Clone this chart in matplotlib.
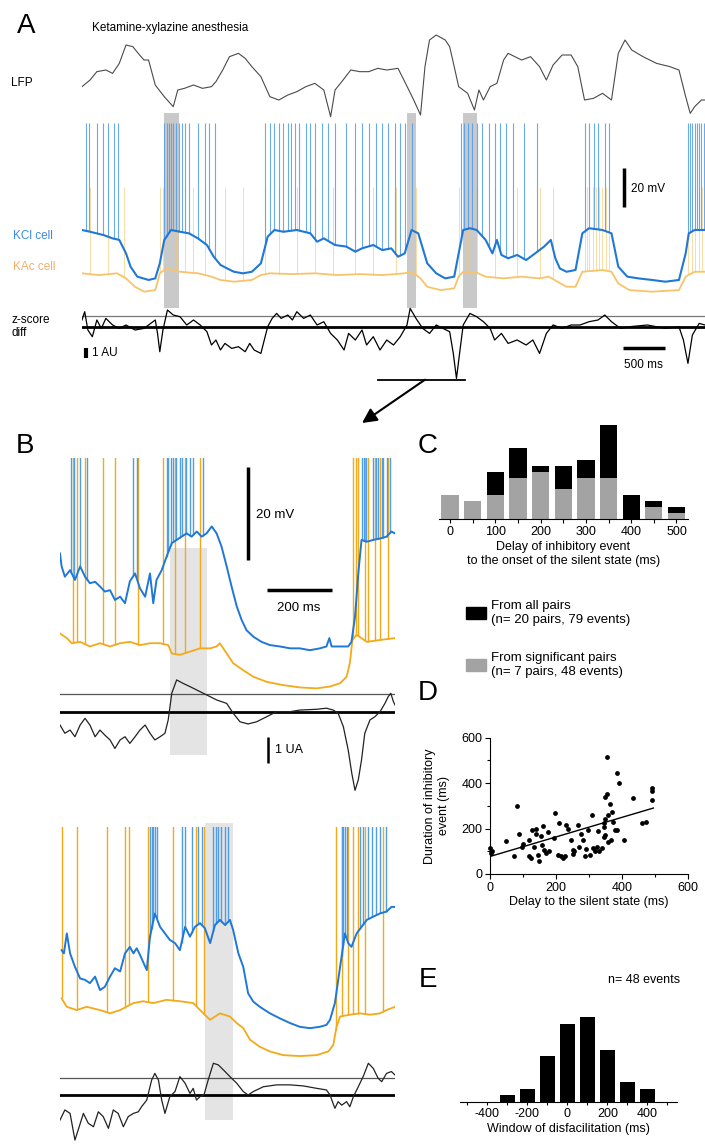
import numpy as np
import matplotlib
matplotlib.use("Agg")
import matplotlib.pyplot as plt
from matplotlib.patches import Patch

plt.rcParams["font.family"] = ["Liberation Sans", "DejaVu Sans"]
plt.rcParams["axes.unicode_minus"] = False

W, H = 705, 1145

BLUE = "#1f78d6"
BLUE_SPK = "#4f9de9"
ORANGE = "#f4a918"
ORANGE_PALE = "#f8c46a"
BAND_A = "#c9c9c9"
BAND_B = "#e4e4e4"

# ---------------- Panel A (time in ms) ----------------
lfp_t = [0, 96, 177, 284, 364, 444, 524, 605, 685, 738, 792, 872, 979, 1086, 1140,
         1220, 1327, 1434, 1541, 1594, 1675, 1755, 1862, 1942, 2022, 2129, 2236, 2343,
         2450, 2557, 2664, 2771, 2878, 2959, 3012, 3092, 3199, 3306, 3413, 3520, 3627,
         3761, 3841, 3948, 4029, 4082, 4136, 4216, 4323, 4376, 4430, 4483, 4590, 4671,
         4724, 4778, 4858, 4938, 5018, 5072, 5152, 5232, 5339, 5446, 5527, 5607, 5714,
         5821, 5901, 5981, 6088, 6195, 6302, 6383, 6463, 6543, 6677, 6837, 6998, 7105,
         7185, 7239, 7292, 7372, 7415]
lfp_v = [-0.10, 0.10, 0.35, 0.40, 0.30, 0.60, 1.15, 1.10, 0.85, 0.70, 0.70, -0.05, -0.40,
         -0.70, -0.20, -0.15, -0.05, -0.15, -0.10, 0.05, 0.40, 0.80, 0.90, 0.75, 0.50, 0.20,
         -0.40, -0.50, -0.35, -0.25, -0.10, 0.00, -0.20, -1.00, -0.20, 0.05, 0.40, 0.35,
         0.35, 0.45, 0.40, 0.45, 0.05, -0.50, -0.95, 0.50, 1.30, 1.45, 1.30, 1.10, 0.50,
         -0.10, -0.30, -0.80, -0.20, -0.50, -0.10, 0.00, 0.70, 0.90, 0.80, 0.70, 0.80,
         0.50, 0.10, 0.55, 0.85, 0.85, 0.50, -0.50, -0.45, -0.30, -0.50, 0.90, 1.30, 1.00,
         0.80, 0.60, 0.50, 0.40, -0.40, -0.90, -0.70, -0.50, -0.50]

kcl_t = [0, 96, 257, 364, 444, 524, 578, 658, 792, 872, 926, 979, 1059, 1166, 1273, 1380,
         1487, 1568, 1648, 1728, 1808, 1915, 2022, 2129, 2210, 2290, 2397, 2557, 2718,
         2798, 2878, 3012, 3146, 3253, 3333, 3467, 3574, 3681, 3761, 3841, 3922, 4002,
         4109, 4216, 4323, 4430, 4483, 4537, 4617, 4697, 4804, 4885, 4938, 4992, 5072,
         5179, 5286, 5393, 5500, 5580, 5634, 5687, 5767, 5874, 5955, 6035, 6195, 6302,
         6383, 6490, 6623, 6784, 6944, 7105, 7185, 7222, 7292, 7415]
kcl_v = [-50.0, -50.9, -52.6, -54.3, -55.1, -62.0, -68.8, -73.9, -75.6, -74.8, -67.1,
         -55.1, -50.0, -50.9, -51.7, -54.3, -57.7, -63.7, -67.9, -69.7, -71.4, -72.2,
         -71.4, -67.1, -53.4, -50.0, -50.9, -50.0, -51.7, -56.0, -54.3, -57.7, -58.5,
         -61.1, -59.4, -57.7, -60.3, -59.4, -63.7, -62.0, -50.0, -51.7, -67.1, -72.2,
         -74.8, -73.9, -62.0, -50.0, -49.1, -50.0, -55.1, -62.0, -55.1, -62.8, -64.5,
         -62.8, -65.4, -62.0, -58.5, -55.1, -64.5, -69.7, -71.4, -70.5, -51.7, -49.1,
         -50.0, -51.7, -68.8, -73.9, -74.8, -75.6, -76.5, -75.6, -62.0, -51.7, -50.0, -50.0]

kac_t = [0, 203, 417, 524, 631, 738, 872, 926, 1006, 1166, 1380, 1541, 1648, 1808, 2022,
         2129, 2236, 2504, 2771, 3039, 3306, 3574, 3841, 3922, 4029, 4109, 4269, 4430,
         4483, 4537, 4697, 4804, 5018, 5232, 5446, 5553, 5660, 5767, 5874, 5955, 6195,
         6302, 6383, 6516, 6784, 7105, 7185, 7292, 7415]
kac_v = [-72.2, -73.1, -72.2, -74.8, -79.1, -81.6, -80.8, -72.2, -69.7, -71.4, -72.2,
         -73.9, -75.6, -76.5, -75.6, -73.1, -72.2, -72.6, -72.2, -73.1, -72.6, -73.1,
         -72.2, -71.4, -74.8, -79.1, -80.8, -79.9, -73.9, -71.4, -71.9, -73.9, -74.8,
         -73.9, -74.8, -73.9, -76.5, -79.1, -79.1, -71.4, -70.5, -71.4, -77.4, -80.8,
         -81.6, -80.8, -73.9, -71.4, -71.4]

kcl_spikes_a = [43, 80, 177, 246, 310, 375, 428,
                979, 1006, 1033, 1059, 1086, 1124, 1156, 1193, 1231, 1273, 1380, 1461, 1514, 1584,
                2183, 2236, 2290, 2343, 2397, 2450, 2493, 2531, 2584, 2664, 2718, 2771, 2852,
                2932, 3012, 3146, 3253, 3333, 3413, 3494, 3574, 3638, 3724, 3788, 3841, 3922,
                4510, 4548, 4590, 4644, 4697, 4762, 4847, 4911, 4981, 5045, 5125, 5259, 5420,
                5981, 6035, 6088, 6142, 6222, 6275,
                7212, 7239, 7265, 7292, 7319, 7346, 7372, 7399]
kac_spikes_a = [96, 310, 498, 926, 963, 1017, 1113, 1220, 1327, 1461, 1701, 1915, 2183,
                2343, 2557, 2771, 2985, 3253, 3467, 3734, 3975, 4483, 4590, 4697, 4911,
                5179, 5446, 5607, 5981, 6008, 6035, 6078, 6115, 6152, 6195, 6238, 6275,
                7212, 7255, 7297, 7340, 7383]
kcl_peak_a = 5.0
kac_peak_a = -28.0

zdiff_t = [0, 32, 70, 123, 177, 230, 284, 364, 444, 524, 631, 738, 872, 899, 926, 963,
           1017, 1086, 1166, 1247, 1327, 1407, 1487, 1541, 1594, 1648, 1701, 1782, 1862,
           1942, 1996, 2049, 2129, 2210, 2263, 2317, 2370, 2450, 2504, 2557, 2638, 2718,
           2798, 2878, 2959, 3039, 3119, 3173, 3253, 3333, 3387, 3467, 3547, 3627, 3708,
           3788, 3868, 3906, 3975, 4055, 4136, 4216, 4296, 4376, 4419, 4457, 4494, 4537,
           4617, 4697, 4778, 4858, 4911, 4992, 5072, 5179, 5286, 5366, 5446, 5527, 5607,
           5714, 5821, 5928, 6035, 6142, 6222, 6302, 6409, 6516, 6730, 6944, 7105, 7158,
           7212, 7265, 7346, 7415]
zdiff_v = [0.67, 1.50, -0.33, -1.00, 0.67, -0.17, 0.83, 0.17, -0.17, 0.17, -0.33, -0.17,
           0.67, -0.67, -2.50, -0.33, 1.67, 1.17, 1.00, 0.17, 0.67, 0.17, -0.50, -1.83,
           -1.33, -2.33, -1.67, -2.17, -2.00, -2.50, -1.67, -2.33, -2.67, 0.00, 0.83, 1.33,
           0.83, 1.17, 0.67, 1.50, 0.83, 1.17, 0.17, 0.50, -0.67, -1.33, -2.33, -0.67,
           -1.33, -0.33, -1.83, -1.00, -2.33, -1.33, -1.83, -1.00, 0.17, 1.83, 0.83, -0.17,
           -0.67, 0.17, -0.17, -0.50, -2.67, -5.17, -2.67, 0.17, 1.33, 1.00, 0.50, -0.17,
           -1.33, -0.67, -1.67, -1.33, -1.83, -1.33, -2.67, -0.67, 0.17, -0.17, 0.17, 0.17,
           0.50, 0.67, 1.17, 0.50, -0.17, 0.00, 0.17, -0.17, 0.00, -1.33, -3.67, -0.83,
           0.33, 0.17]
z_thr_a = 1.07
bands_a = [(979, 1156), (3868, 3975), (4537, 4697)]
zoom_window_a = (3520, 4564)

# ---------------- Panel B (time in ms from window start) ----------------
b1_kcl_t = [0, 5, 15, 31, 46, 62, 77, 92, 108, 123, 138, 154, 169, 185, 200, 215, 231,
            246, 262, 277, 287, 297, 313, 328, 344, 359, 374, 390, 405, 421, 436, 451, 467,
            482, 497, 513, 528, 544, 559, 574, 595, 620, 646, 677, 708, 738, 769, 800, 820,
            829, 836, 862, 887, 897, 908, 918, 928, 944, 964, 985, 1005, 1020, 1031]
b1_kcl_v = [-48.6, -51.4, -53.6, -52.2, -54.3, -51.4, -53.6, -55.0, -54.7, -55.7, -56.8,
            -56.5, -58.6, -57.9, -59.3, -54.6, -52.9, -56.1, -57.9, -52.9, -59.3, -54.3,
            -52.2, -49.3, -46.4, -45.7, -45.0, -44.3, -45.0, -43.9, -45.0, -44.3, -42.8,
            -44.3, -47.1, -51.4, -55.7, -60.0, -62.9, -65.1, -66.5, -67.6, -68.3, -68.6,
            -69.0, -69.0, -69.4, -69.0, -68.6, -66.8, -68.6, -68.6, -68.6, -67.6, -62.2,
            -52.9, -45.7, -46.1, -45.7, -45.4, -45.0, -43.9, -44.3]
b1_kac_t = [0, 21, 36, 62, 92, 123, 154, 185, 215, 246, 277, 308, 333, 344, 369, 400, 431,
            462, 482, 492, 513, 533, 564, 595, 636, 687, 738, 790, 831, 862, 882, 892, 900,
            913, 944, 985, 1031]
b1_kac_v = [-65.8, -66.8, -67.9, -67.6, -68.6, -67.9, -68.6, -67.9, -67.6, -68.3, -67.9,
            -67.9, -68.3, -70.1, -70.4, -69.7, -69.0, -69.0, -68.6, -67.9, -70.1, -72.2,
            -73.7, -75.1, -76.2, -76.9, -77.4, -77.6, -77.2, -76.5, -75.1, -72.2, -67.2,
            -66.1, -67.6, -67.2, -66.8]
b1_kcl_spikes = [34, 43, 62, 84, 226, 236, 328, 333, 341, 349, 357, 369, 377, 388, 400,
                 410, 441, 928, 935, 941, 964, 972, 979, 990, 995, 1005, 1015]
b1_kac_spikes = [39, 51, 77, 133, 169, 241, 318, 354, 385, 431, 903, 910, 918, 938, 949,
                 969, 985, 1010]
b1_z_t = [0, 15, 31, 46, 62, 77, 92, 108, 123, 138, 154, 169, 185, 200, 215, 231, 246, 262,
          277, 292, 308, 323, 333, 344, 359, 379, 400, 431, 451, 482, 513, 533, 554, 579,
          605, 636, 667, 708, 738, 790, 820, 841, 856, 872, 887, 898, 908, 918, 928, 938,
          954, 969, 985, 1000, 1010, 1018, 1026, 1031]
b1_z_v = [-0.50, -0.81, -0.69, -0.94, -0.50, -0.25, -0.50, -0.94, -0.69, -0.88, -1.06,
          -1.38, -1.06, -0.94, -1.19, -0.94, -0.69, -0.50, -0.81, -1.06, -0.94, -0.81,
          -0.31, 0.69, 1.19, 1.06, 0.94, 0.75, 0.63, 0.44, 0.31, -0.06, -0.38, -0.46,
          -0.38, -0.19, 0.00, 0.00, 0.06, 0.09, 0.13, 0.06, -0.06, -0.56, -1.44, -2.31,
          -2.95, -2.56, -1.81, -0.81, -0.31, -0.19, 0.00, 0.31, 0.56, 0.69, 0.38, 0.25]
b1_band = (338, 451)

b2_kcl_t = [5, 12, 21, 31, 46, 62, 77, 92, 108, 123, 138, 154, 169, 185, 200, 215, 226,
            236, 246, 267, 277, 292, 308, 323, 338, 354, 369, 385, 400, 415, 431, 446, 462,
            477, 492, 508, 523, 533, 549, 564, 579, 595, 615, 646, 677, 708, 738, 769, 800,
            820, 831, 846, 862, 877, 887, 897, 913, 928, 944, 964, 985, 1005, 1020, 1031]
b2_kcl_v = [-51.1, -51.8, -47.5, -51.8, -54.7, -57.2, -57.5, -58.2, -56.8, -59.7, -59.0,
            -56.8, -55.0, -55.7, -51.8, -50.4, -51.8, -50.7, -52.1, -55.4, -48.2, -43.2,
            -46.1, -47.5, -48.9, -49.6, -51.1, -46.1, -48.2, -46.1, -45.3, -46.4, -49.6,
            -45.7, -44.6, -45.7, -44.6, -46.8, -51.8, -54.7, -60.4, -62.2, -63.3, -64.7,
            -65.8, -66.8, -67.6, -67.9, -67.6, -67.2, -66.1, -62.5, -54.7, -47.5, -49.6,
            -50.4, -47.5, -46.1, -44.6, -43.9, -43.2, -42.8, -41.8, -41.8]
b2_kac_t = [5, 21, 51, 82, 123, 154, 185, 226, 256, 287, 328, 369, 410, 441, 462, 492, 523,
            544, 564, 585, 615, 646, 687, 738, 790, 826, 841, 851, 862, 892, 923, 954, 985,
            1005, 1031]
b2_kac_v = [-61.5, -63.3, -64.0, -63.3, -64.0, -64.7, -64.0, -62.5, -62.1, -62.5, -61.8,
            -62.1, -62.5, -64.7, -66.1, -64.7, -65.4, -66.8, -67.9, -70.4, -71.9, -72.9,
            -73.7, -73.9, -73.7, -72.9, -71.5, -67.6, -65.4, -65.0, -64.7, -65.0, -64.7,
            -64.0, -63.3]
b2_kcl_spikes = [277, 282, 287, 292, 297, 374, 385, 405, 426, 436, 472, 480, 487, 497, 508,
                 518, 867, 872, 877, 882, 923, 933, 949, 959, 974, 985, 1003]
b2_kac_spikes = [5, 53, 144, 200, 213, 272, 349, 420, 443, 849, 867, 887, 903, 918, 938, 995]
b2_z_t = [0, 15, 31, 46, 56, 72, 87, 103, 118, 133, 149, 164, 179, 195, 210, 226, 241,
          251, 267, 282, 292, 303, 313, 323, 338, 354, 369, 385, 400, 410, 420, 431, 443,
          456, 472, 487, 503, 523, 544, 564, 579, 595, 626, 667, 708, 749, 790, 820, 831,
          846, 856, 867, 882, 892, 903, 918, 933, 949, 964, 979, 990, 1005, 1020, 1031]
b2_z_v = [-0.94, -0.56, -0.69, -1.69, -1.31, -0.69, -1.06, -1.19, -0.63, -0.81, -1.25,
          -0.56, -0.69, -1.19, -0.81, -0.69, -0.63, -0.44, -0.19, 0.56, 0.81, 0.56, -0.19,
          -0.69, -0.06, 0.13, 0.69, 0.44, 0.06, 0.25, -0.19, -0.06, 0.00, 0.56, 1.19,
          1.13, 0.94, 0.69, 0.44, 0.13, 0.00, 0.13, 0.31, 0.38, 0.38, 0.34, 0.25, 0.19,
          0.00, -0.50, -0.25, -0.38, -0.25, -0.44, -0.06, 0.31, 0.69, 1.19, 1.00, 0.63,
          0.50, 0.81, 0.88, 0.75]
b2_band = (446, 533)
z_thr_b = 0.65
spike_top_b = 0.0

# ---------------- Panel C ----------------
delay_bins = [0, 50, 100, 150, 200, 250, 300, 350, 400, 450, 500]
events_all = [4, 3, 8, 12, 9, 9, 10, 16, 4, 3, 2]
events_sig = [4, 3, 4, 7, 8, 5, 7, 7, 0, 2, 1]

# ---------------- Panel D ----------------
delay_d = [0, 2, 5, 49, 72, 82, 87, 97, 118, 118, 123, 128, 133, 138, 144, 149, 154, 159,
           164, 169, 180, 197, 195, 205, 210, 215, 221, 226, 231, 236, 246, 251, 256, 267,
           277, 282, 287, 292, 297, 303, 310, 313, 318, 323, 328, 338, 344, 344, 349, 349,
           354, 354, 348, 359, 364, 367, 369, 374, 379, 385, 386, 392, 405, 434, 462, 472,
           492, 492, 492, 359, 344, 140, 160, 175, 100, 250, 270, 330]
duration_d = [113, 91, 103, 145, 80, 301, 175, 120, 149, 77, 70, 193, 120, 178, 84, 55,
              167, 128, 106, 91, 99, 267, 157, 84, 225, 77, 70, 77, 214, 200, 149, 106, 99,
              214, 178, 149, 77, 109, 193, 84, 258, 113, 99, 120, 188, 113, 222, 207, 243,
              171, 516, 352, 339, 142, 309, 149, 272, 229, 193, 193, 445, 401, 149, 334,
              222, 229, 379, 365, 325, 258, 164, 200, 210, 185, 130, 90, 120, 100]
fit_intercept, fit_slope = 77, 0.43

# ---------------- Panel E ----------------
window_bins = [-300, -200, -100, 0, 100, 200, 300, 400]
window_counts = [1, 2, 7, 12, 13, 8, 3, 2]


def px_axes(fig, left, top, right, bottom):
    return fig.add_axes([left / W, 1 - bottom / H, (right - left) / W, (bottom - top) / H])


def fig_text(fig, x, y, s, **kw):
    fig.text(x / W, 1 - y / H, s, **kw)


fig = plt.figure(figsize=(W / 100, H / 100), dpi=100)

# ===== Panel A =====
t_lim_a = (0, 7415)
ax_band = px_axes(fig, 82, 113, 705, 308)
for t0, t1 in bands_a:
    ax_band.axvspan(t0, t1, color=BAND_A, lw=0)
ax_band.set_xlim(t_lim_a)
ax_band.set_axis_off()

ax_lfp = px_axes(fig, 82, 30, 705, 120)
ax_lfp.plot(lfp_t, lfp_v, color="#4a4a4a", lw=0.8)
ax_lfp.set_xlim(t_lim_a)
ax_lfp.set_ylim(-1.1, 1.6)
ax_lfp.set_axis_off()

ax_ca = px_axes(fig, 82, 110, 705, 310)
ax_ca.vlines(kac_spikes_a, np.interp(kac_spikes_a, kac_t, kac_v), kac_peak_a,
             color=ORANGE_PALE, lw=0.6, alpha=0.7)
ax_ca.plot(kac_t, kac_v, color=ORANGE_PALE, lw=1.3)
ax_ca.vlines(kcl_spikes_a, np.interp(kcl_spikes_a, kcl_t, kcl_v), kcl_peak_a,
             color=BLUE_SPK, lw=0.8, alpha=0.85)
ax_ca.plot(kcl_t, kcl_v, color=BLUE, lw=1.5)
# 20 mV scale bar
ax_ca.plot([6450, 6450], [-38, -18], color="black", lw=2.5, solid_capstyle="butt")
ax_ca.text(6540, -29, "20 mV", fontsize=8.5, va="center", ha="left")
ax_ca.set_xlim(t_lim_a)
ax_ca.set_ylim(-91, 11.5)
ax_ca.set_axis_off()

ax_za = px_axes(fig, 82, 300, 705, 385)
ax_za.axhline(z_thr_a, color="#777777", lw=0.9)
ax_za.axhline(0, color="black", lw=2.0)
ax_za.plot(zdiff_t, zdiff_v, color="black", lw=0.9)
ax_za.plot(zoom_window_a, [-5.3, -5.3], color="black", lw=1.3, clip_on=False)
ax_za.plot([43, 43], [-2.17, -3.17], color="black", lw=3, solid_capstyle="butt")
ax_za.text(123, -2.67, "1 AU", fontsize=8.5, va="center", ha="left")
ax_za.plot([6436, 6934], [-2.17, -2.17], color="black", lw=2.5, solid_capstyle="butt")
ax_za.text(6685, -3.85, "500 ms", fontsize=8.5, va="center", ha="center")
ax_za.annotate("", xy=(362 / W, 1 - 423 / H), xycoords="figure fraction",
               xytext=(4082, -5.3), textcoords="data",
               arrowprops=dict(arrowstyle="-|>", color="black", lw=1.5,
                               mutation_scale=22, shrinkA=0, shrinkB=0))
ax_za.set_xlim(t_lim_a)
ax_za.set_ylim(-5.83, 2.67)
ax_za.set_axis_off()

fig_text(fig, 17, 33, "A", fontsize=20)
fig_text(fig, 92, 31, "Ketamine-xylazine anesthesia", fontsize=8.5)
fig_text(fig, 11, 86, "LFP", fontsize=8.5)
fig_text(fig, 13, 239, "KCl cell", fontsize=8.5, color="#3b8be0")
fig_text(fig, 13, 270, "KAc cell", fontsize=8.5, color="#f3ae6a")
fig_text(fig, 11, 323, "z-score", fontsize=8.5)
fig_text(fig, 11, 336, "diff", fontsize=8.5)


# ===== Panel B =====
def draw_b(top_cells, bot_cells, vlim, top_z, bot_z, zlim, band, band_px,
           kcl_t, kcl_v, kac_t, kac_v, kcl_spk, kac_spk, z_t, z_v):
    t_lim = (0, 1031)
    axb = px_axes(fig, 60, band_px[0], 395, band_px[1])
    axb.axvspan(band[0], band[1], color=BAND_B, lw=0)
    axb.set_xlim(t_lim)
    axb.set_axis_off()

    axc = px_axes(fig, 60, top_cells, 395, bot_cells)
    axc.vlines(kac_spk, np.interp(kac_spk, kac_t, kac_v), spike_top_b,
               color=ORANGE, lw=1.0)
    axc.vlines(kcl_spk, np.interp(kcl_spk, kcl_t, kcl_v), spike_top_b,
               color=BLUE_SPK, lw=1.0)
    axc.plot(kac_t, kac_v, color=ORANGE, lw=1.3)
    axc.plot(kcl_t, kcl_v, color=BLUE, lw=1.4)
    axc.set_xlim(t_lim)
    axc.set_ylim(vlim)
    axc.set_axis_off()

    axz = px_axes(fig, 60, top_z, 395, bot_z)
    axz.axhline(z_thr_b, color="#555555", lw=0.9)
    axz.axhline(0, color="black", lw=2.0)
    axz.plot(z_t, z_v, color="#222222", lw=0.9)
    axz.set_xlim(t_lim)
    axz.set_ylim(zlim)
    axz.set_axis_off()
    return axc, axz


axc1, axz1 = draw_b(458, 700, (-80.1, -28.1), 670, 795, (-3.125, 1.5625), b1_band, (548, 755),
                    b1_kcl_t, b1_kcl_v, b1_kac_t, b1_kac_v, b1_kcl_spikes, b1_kac_spikes,
                    b1_z_t, b1_z_v)
axc1.plot([579, 579], [-50, -30], color="black", lw=2.5, solid_capstyle="butt")
axc1.text(603, -40.3, "20 mV", fontsize=9.5, va="center", ha="left")
axc1.plot([636, 836], [-56.5, -56.5], color="black", lw=2.5, solid_capstyle="butt")
axc1.text(736, -60.4, "200 ms", fontsize=9.5, va="center", ha="center")
axz1.plot([641, 641], [-0.94, -1.94], color="black", lw=1.8, solid_capstyle="butt")
axz1.text(662, -1.44, "1 UA", fontsize=9, va="center", ha="left")

draw_b(827, 1070, (-76.9, -24.6), 1050, 1145, (-1.875, 1.6875), b2_band, (823, 1120),
       b2_kcl_t, b2_kcl_v, b2_kac_t, b2_kac_v, b2_kcl_spikes, b2_kac_spikes,
       b2_z_t, b2_z_v)

fig_text(fig, 16, 453, "B", fontsize=20)

# ===== Panel C =====
ax_c = px_axes(fig, 438.7, 421.6, 687.8, 519)
sig = np.array(events_sig)
rest = np.array(events_all) - sig
ax_c.bar(delay_bins, sig, width=38, color="#a3a3a3", lw=0)
ax_c.bar(delay_bins, rest, width=38, bottom=sig, color="black", lw=0)
ax_c.set_xlim(-25, 525)
ax_c.set_ylim(0, 16.5)
for s in ["top", "right", "left"]:
    ax_c.spines[s].set_visible(False)
ax_c.set_yticks([])
ax_c.set_xticks(range(0, 501, 100))
ax_c.set_xticks(range(50, 500, 100), minor=True)
ax_c.tick_params(axis="x", which="both", length=3, width=0.8, labelsize=9, pad=2)
ax_c.set_xlabel("Delay of inhibitory event\nto the onset of the silent state (ms)",
                fontsize=9, labelpad=2)
fig_text(fig, 418, 453, "C", fontsize=20)

fig.legend([Patch(color="black"), Patch(color="#a3a3a3")],
           ["From all pairs\n(n= 20 pairs, 79 events)",
            "From significant pairs\n(n= 7 pairs, 48 events)"],
           loc="upper left", bbox_to_anchor=(466 / W, 1 - 600 / H), frameon=False,
           fontsize=9.5, handlelength=1.5, handleheight=1.0, handletextpad=0.4,
           labelspacing=2.0, borderpad=0, borderaxespad=0)

# ===== Panel D =====
ax_d = px_axes(fig, 490, 737.5, 688, 874)
ax_d.scatter(delay_d, duration_d, s=12, color="black", lw=0, clip_on=False, zorder=3)
fit_x = np.array([0, 495])
ax_d.plot(fit_x, fit_intercept + fit_slope * fit_x, color="black", lw=1.0)
ax_d.set_xlim(0, 600)
ax_d.set_ylim(0, 600)
ax_d.spines["top"].set_visible(False)
ax_d.spines["right"].set_visible(False)
ax_d.set_xticks([0, 200, 400, 600])
ax_d.set_yticks([0, 200, 400, 600])
ax_d.set_xticks([100, 300, 500], minor=True)
ax_d.set_yticks([100, 300, 500], minor=True)
ax_d.tick_params(which="major", length=3.5, width=0.8, labelsize=9, pad=2)
ax_d.tick_params(which="minor", length=2, width=0.8)
ax_d.set_xlabel("Delay to the silent state (ms)", fontsize=9, labelpad=2)
ax_d.set_ylabel("Duration of inhibitory\nevent (ms)", fontsize=9, labelpad=8)
fig_text(fig, 418, 700, "D", fontsize=20)

# ===== Panel E =====
ax_e = px_axes(fig, 460, 1014.2, 676.7, 1102)
ax_e.bar(window_bins, window_counts, width=75, color="black", lw=0)
ax_e.set_xlim(-537, 547)
ax_e.set_ylim(0, 13.5)
for s in ["top", "right", "left"]:
    ax_e.spines[s].set_visible(False)
ax_e.set_yticks([])
ax_e.set_xticks([-400, -200, 0, 200, 400])
ax_e.set_xticks(range(-500, 501, 100), minor=True)
ax_e.tick_params(axis="x", which="both", length=2.5, width=0.8, labelsize=9, pad=2)
ax_e.set_xlabel("Window of disfacilitation (ms)", fontsize=9, labelpad=2)
ax_e.text(1.015, 1.39, "n= 48 events", transform=ax_e.transAxes, fontsize=9,
          ha="right", va="center")
fig_text(fig, 419, 987, "E", fontsize=20)

fig.savefig("out.png", dpi=100)
